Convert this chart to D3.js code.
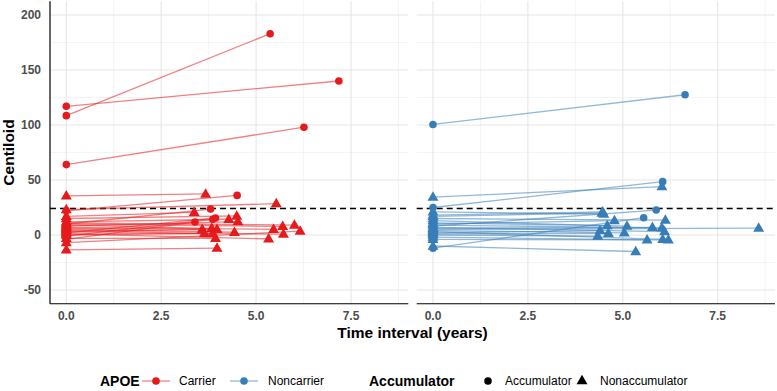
<!DOCTYPE html>
<html><head><meta charset="utf-8">
<script src="https://cdn.jsdelivr.net/npm/d3@7"></script>
<style>body{margin:0;background:#fff}svg{display:block;font-family:"Liberation Sans",Arial,sans-serif}</style>
</head><body><div id="chart"></div>
<script>
// ---- Data ----
const groups = ["Carrier", "Noncarrier"];
const groupColors = ["#E41A1C", "#377EB8"];
const threshold = 24.1;
const yTicks = [-50, 0, 50, 100, 150, 200];
const yMinor = [-25, 25, 75, 125, 175];
const xTicks = [0, 2.5, 5, 7.5];
const xMinor = [1.25, 3.75, 6.25, 8.75];
const yLimits = [-50, 200];

// Carrier: baseline value (t=0), follow-up time, follow-up value, accumulator status
const carrierBase   = [108.5, 117, 64, 35.5, 22, 10, 23, 17, -4, -1, 2, 12, 15, 8, 6, 9, 3, 4, 0, -3, -13.5, 5, 1, 7, 10, 2, 11, -7];
const carrierTime   = [5.37, 7.18, 6.26, 3.67, 4.50, 3.80, 5.53, 3.37, 3.39, 3.86, 3.93, 4.28, 4.49, 4.52, 3.58, 3.83, 3.97, 3.64, 3.86, 3.93, 3.97, 4.43, 5.33, 5.46, 5.70, 5.72, 6.01, 6.16];
const carrierFollow = [183, 140, 98, 37.3, 36, 23.6, 28.5, 20.6, 11.8, 14.3, 15.5, 14.3, 17.3, 12.1, 5.2, 6.1, 5.2, 1.5, 1.5, -3, -12, 2.5, -3.5, 5.2, 7.8, 0.8, 9, 3.5];
const carrierAcc    = ["A","A","A","N","A","A","N","N","A","A","A","N","N","N","N","N","N","N","N","N","N","N","N","N","N","N","N","N"];

// Noncarrier
const nonBase   = [100.5, 25, 34.5, 18, 21, 8, -12, 10, 15, 13, 11, 6, 9, 5, 2, 4, 7, 0, 1, -2, 3, -4, -10, 17];
const nonTime   = [6.64, 6.05, 6.03, 4.47, 4.50, 5.88, 5.55, 4.78, 6.12, 5.11, 4.59, 5.78, 6.03, 8.58, 4.40, 5.04, 6.10, 4.34, 4.62, 5.64, 6.05, 6.20, 5.34, 4.45];
const nonFollow = [127.5, 48.5, 44, 21, 19, 22.7, 15.7, 13, 13.5, 8, 8.5, 7, 6.5, 6.3, 4, 2, 3, -1, 1.5, -4.5, -3.9, -4.5, -15, 20];
const nonAcc    = ["A","A","N","N","N","A","A","N","N","N","N","N","N","N","N","N","N","N","N","N","N","N","N","N"];

// ---- Layout ----
const W = 777, H = 391;
const panelTop = 1.25, panelBottom = 303.75;
const panelW = 358.3, panelX0 = [50, 416.7];
const font = '"Liberation Sans", Arial, sans-serif';

const svg = d3.select("#chart").append("svg").attr("width", W).attr("height", H);
svg.append("rect").attr("width", W).attr("height", H).attr("fill", "#fff");

const ySpan = yLimits[1] - yLimits[0];
const y = d3.scaleLinear().domain([yLimits[0] - 0.05 * ySpan, yLimits[1] + 0.05 * ySpan]).range([panelBottom, panelTop]);
const allTimes = carrierTime.concat(nonTime);
const xMax = d3.max(allTimes), xExp = 0.05 * xMax;
const xDomain = [0 - xExp, xMax + xExp];

const datasets = [
  {base: carrierBase, time: carrierTime, follow: carrierFollow, acc: carrierAcc},
  {base: nonBase, time: nonTime, follow: nonFollow, acc: nonAcc}
];

const triPath = d3.symbol().type(d3.symbolTriangle).size(52)();

datasets.forEach((ds, gi) => {
  const x = d3.scaleLinear().domain(xDomain).range([panelX0[gi], panelX0[gi] + panelW]);
  const g = svg.append("g");
  // minor grid
  g.selectAll(".ymin").data(yMinor).join("line")
    .attr("x1", x.range()[0]).attr("x2", x.range()[1]).attr("y1", d => y(d)).attr("y2", d => y(d))
    .attr("stroke", "#ededed").attr("stroke-width", 0.6);
  g.selectAll(".xmin").data(xMinor).join("line")
    .attr("y1", panelTop).attr("y2", panelBottom).attr("x1", d => x(d)).attr("x2", d => x(d))
    .attr("stroke", "#ededed").attr("stroke-width", 0.6);
  // major grid
  g.selectAll(".ymaj").data(yTicks).join("line")
    .attr("x1", x.range()[0]).attr("x2", x.range()[1]).attr("y1", d => y(d)).attr("y2", d => y(d))
    .attr("stroke", "#e6e6e6").attr("stroke-width", 1.1);
  g.selectAll(".xmaj").data(xTicks).join("line")
    .attr("y1", panelTop).attr("y2", panelBottom).attr("x1", d => x(d)).attr("x2", d => x(d))
    .attr("stroke", "#e6e6e6").attr("stroke-width", 1.1);

  // threshold
  g.append("line").attr("x1", x.range()[0]).attr("x2", x.range()[1])
    .attr("y1", y(threshold)).attr("y2", y(threshold))
    .attr("stroke", "#000").attr("stroke-width", 1.3).attr("stroke-dasharray", "6,4");

  const subj = ds.base.map((b, i) => ({b, t: ds.time[i], f: ds.follow[i], a: ds.acc[i]}));
  const col = groupColors[gi];
  // connecting lines
  g.selectAll(".seg").data(subj).join("line")
    .attr("x1", x(0)).attr("y1", d => y(d.b)).attr("x2", d => x(d.t)).attr("y2", d => y(d.f))
    .attr("stroke", col).attr("stroke-opacity", 0.55).attr("stroke-width", 1.3);
  // points
  const pts = [];
  subj.forEach(d => { pts.push({x: 0, v: d.b, a: d.a}); pts.push({x: d.t, v: d.f, a: d.a}); });
  pts.forEach(p => {
    if (p.a === "A") {
      g.append("circle").attr("cx", x(p.x)).attr("cy", y(p.v)).attr("r", 3.8).attr("fill", col);
    } else {
      g.append("path").attr("d", triPath).attr("transform", `translate(${x(p.x)},${y(p.v) + 0.5})`).attr("fill", col);
    }
  });

  // x axis line
  g.append("line").attr("x1", x.range()[0]).attr("x2", x.range()[1])
    .attr("y1", panelBottom).attr("y2", panelBottom).attr("stroke", "#000").attr("stroke-width", 1.2);
  // x tick labels
  g.selectAll(".xl").data(xTicks).join("text")
    .attr("x", d => x(d)).attr("y", 320).attr("text-anchor", "middle")
    .attr("font-size", 12).attr("font-weight", "bold").attr("fill", "#4d4d4d").attr("font-family", font)
    .text(d => d3.format(".1f")(d));

  if (gi === 0) {
    g.append("line").attr("x1", x.range()[0]).attr("x2", x.range()[0])
      .attr("y1", panelTop).attr("y2", panelBottom).attr("stroke", "#000").attr("stroke-width", 1.2);
    g.selectAll(".yl").data(yTicks).join("text")
      .attr("x", 41).attr("y", d => y(d) + 4.3).attr("text-anchor", "end")
      .attr("font-size", 12).attr("font-weight", "bold").attr("fill", "#4d4d4d").attr("font-family", font)
      .text(d => d);
  }
});

// axis titles
svg.append("text").attr("x", (panelX0[0] + panelX0[1] + panelW) / 2).attr("y", 337.5)
  .attr("text-anchor", "middle").attr("font-size", 15.5).attr("font-weight", "bold").attr("font-family", font)
  .text("Time interval (years)");
svg.append("text").attr("transform", `translate(14,${(panelTop + panelBottom) / 2}) rotate(-90)`)
  .attr("text-anchor", "middle").attr("font-size", 15.5).attr("font-weight", "bold").attr("font-family", font)
  .text("Centiloid");

// legend
const ly = 381;
const leg = svg.append("g").attr("font-family", font);
leg.append("text").attr("x", 100).attr("y", ly + 5).attr("font-size", 14).attr("font-weight", "bold").text("APOE");
const keyX = [156, 244];
const labX = [179, 268];
groups.forEach((gname, i) => {
  leg.append("line").attr("x1", keyX[i] - 14).attr("x2", keyX[i] + 14).attr("y1", ly).attr("y2", ly)
    .attr("stroke", groupColors[i]).attr("stroke-opacity", 0.55).attr("stroke-width", 1.3);
  leg.append("circle").attr("cx", keyX[i]).attr("cy", ly).attr("r", 3.8).attr("fill", groupColors[i]);
  leg.append("text").attr("x", labX[i]).attr("y", ly + 4.3).attr("font-size", 12).attr("fill", "#000").text(gname);
});
leg.append("text").attr("x", 369).attr("y", ly + 5).attr("font-size", 14).attr("font-weight", "bold").text("Accumulator");
leg.append("circle").attr("cx", 488).attr("cy", ly).attr("r", 3.8).attr("fill", "#000");
leg.append("text").attr("x", 505).attr("y", ly + 4.3).attr("font-size", 12).text("Accumulator");
leg.append("path").attr("d", triPath).attr("transform", `translate(582,${ly})`).attr("fill", "#000");
leg.append("text").attr("x", 600).attr("y", ly + 4.3).attr("font-size", 12).text("Nonaccumulator");
</script></body></html>
